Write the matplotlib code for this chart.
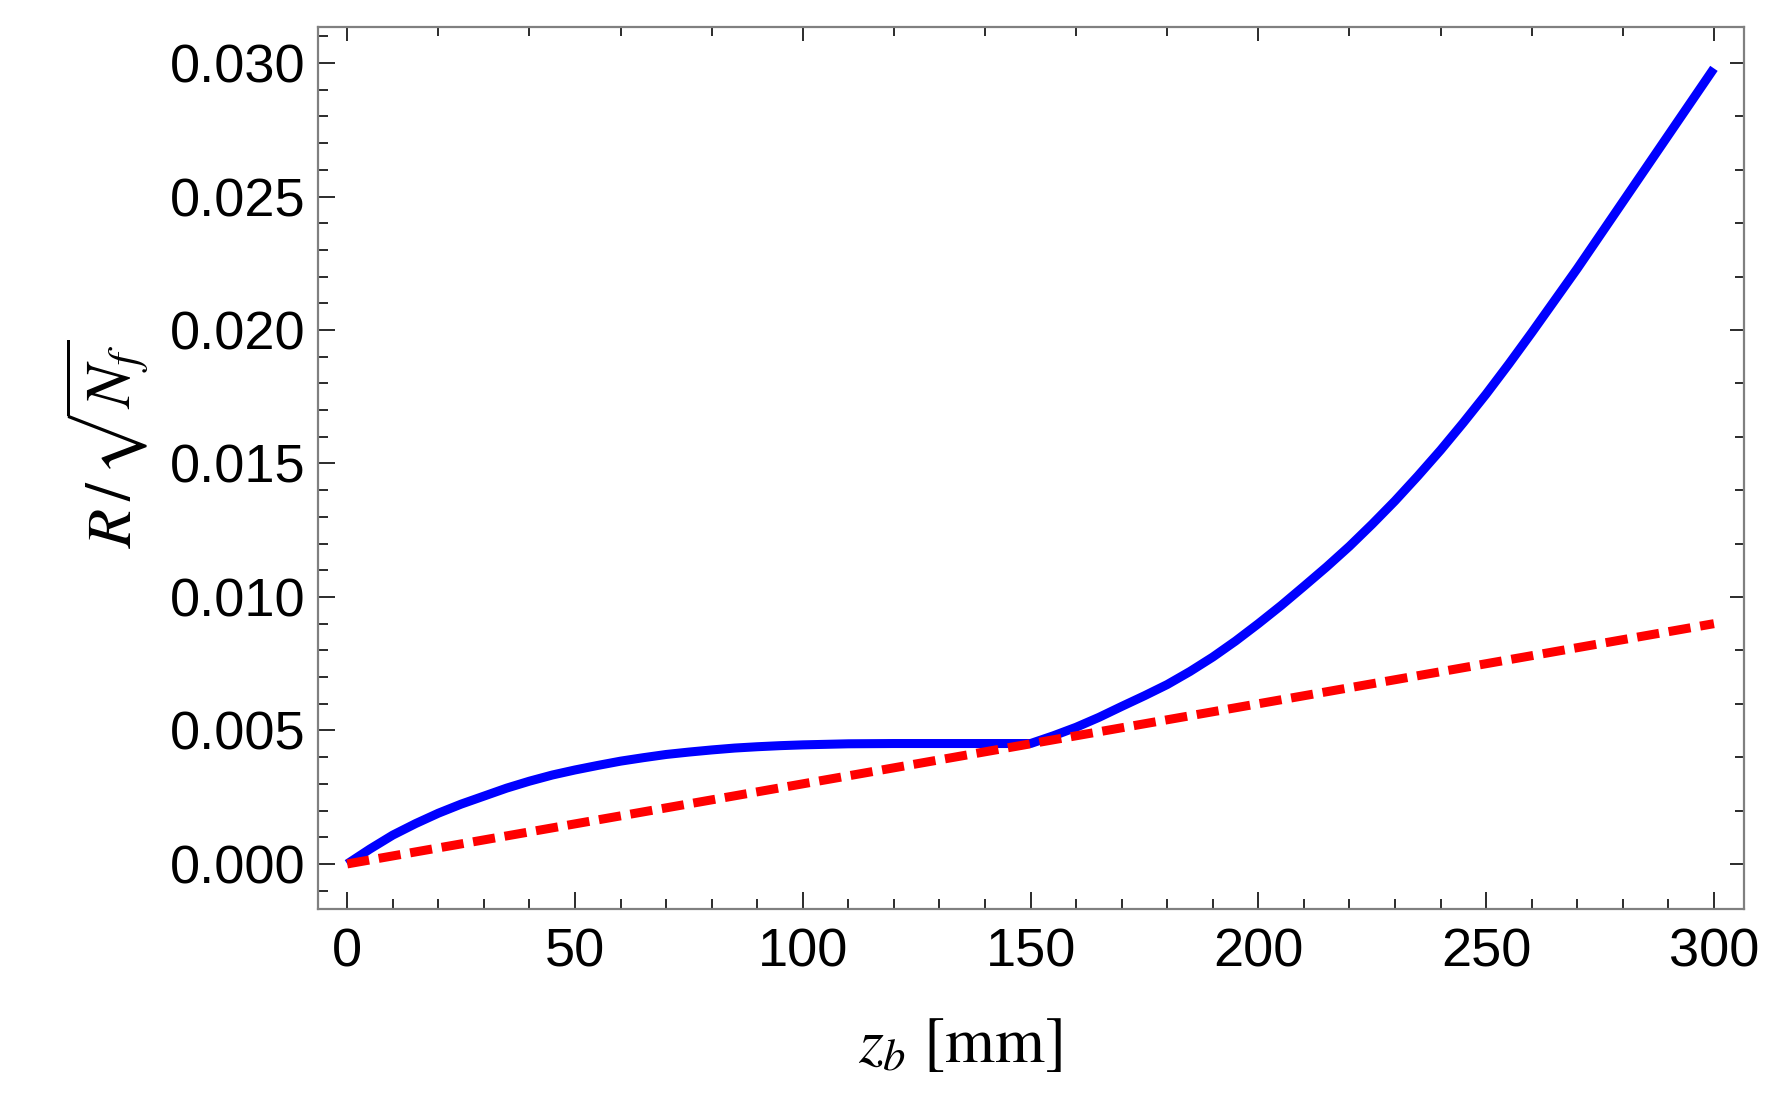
import matplotlib
matplotlib.use("Agg")
import matplotlib.pyplot as plt
from matplotlib.ticker import MultipleLocator, NullFormatter, FormatStrFormatter

# values
z_blue = [0, 5, 10, 15, 20, 25, 30, 35, 40, 45, 50, 55, 60, 65, 70, 75, 80, 85,
          90, 95, 100, 105, 110, 120, 130, 140, 150,
          155, 160, 165, 170, 175, 180, 185, 190, 195, 200, 205, 210, 215, 220,
          225, 230, 235, 240, 245, 250, 255, 260, 265, 270, 275, 280, 285, 290,
          295, 300]
r_blue = [0.0, 0.00056, 0.00108, 0.00151, 0.00190, 0.00224, 0.00254, 0.00284,
          0.00310, 0.00333, 0.00352, 0.00369, 0.00385, 0.00398, 0.00410, 0.00419,
          0.00427, 0.00434, 0.00439, 0.00443, 0.00446, 0.00448, 0.00450, 0.00451,
          0.00451, 0.00451, 0.00451,
          0.00480, 0.00512, 0.00549, 0.00590, 0.00630, 0.00672, 0.00721, 0.00775,
          0.00835, 0.00900, 0.00968, 0.01040, 0.01113, 0.01190, 0.01273, 0.01360,
          0.01453, 0.01550, 0.01653, 0.01760, 0.01873, 0.01990, 0.02110, 0.02230,
          0.02355, 0.02480, 0.02605, 0.02730, 0.02855, 0.02980]
z_red = [0, 300]
r_red = [0.0, 0.009]

plt.rcParams['font.family'] = ['Liberation Sans', 'DejaVu Sans']
plt.rcParams['mathtext.fontset'] = 'stix'
plt.rcParams['lines.scale_dashes'] = False

fig = plt.figure(figsize=(17.72, 10.93), dpi=100)
ax = fig.add_axes([0.1795, 0.1683, 0.8047, 0.807])

ax.plot(z_blue, r_blue, color='#0000ff', lw=6.5, solid_capstyle='butt',
        solid_joinstyle='round', zorder=2)
ax.plot(z_red, r_red, color='#ff0000', lw=6.5, dashes=(16, 7),
        dash_capstyle='butt', zorder=3)

ax.set_xlim(-6.4, 306.6)
ax.set_ylim(-0.00169, 0.03135)

ax.xaxis.set_major_locator(MultipleLocator(50))
ax.xaxis.set_minor_locator(MultipleLocator(10))
ax.yaxis.set_major_locator(MultipleLocator(0.005))
ax.yaxis.set_minor_locator(MultipleLocator(0.001))
ax.yaxis.set_major_formatter(FormatStrFormatter('%.3f'))

tick_col = '#1a1a1a'
ax.tick_params(which='both', direction='in', color=tick_col, width=1.3,
               labelsize=39, labelcolor='black')
ax.tick_params(which='major', length=12)
ax.tick_params(which='minor', length=7.5)
ax.tick_params(axis='x', pad=13)
ax.tick_params(axis='y', pad=9)

for s in ax.spines.values():
    s.set_color('#808080')
    s.set_linewidth(1.6)

# mirrored frame ticks (coarser, no labels)
top = ax.secondary_xaxis('top', functions=(lambda x: x, lambda x: x))
top.xaxis.set_major_locator(MultipleLocator(100))
top.xaxis.set_minor_locator(MultipleLocator(20))
top.xaxis.set_major_formatter(NullFormatter())
top.tick_params(which='both', direction='in', color=tick_col, width=1.3)
top.tick_params(which='major', length=10)
top.tick_params(which='minor', length=6.5)
top.spines['top'].set_visible(False)

right = ax.secondary_yaxis('right', functions=(lambda y: y, lambda y: y))
right.yaxis.set_major_locator(MultipleLocator(0.01))
right.yaxis.set_minor_locator(MultipleLocator(0.002))
right.yaxis.set_major_formatter(NullFormatter())
right.tick_params(which='both', direction='in', color=tick_col, width=1.3)
right.tick_params(which='major', length=10)
right.tick_params(which='minor', length=6.5)
right.spines['right'].set_visible(False)

ax.set_xlabel(r'$z_b\ [\mathrm{mm}]$', fontsize=46)
ax.xaxis.set_label_coords(0.45, -0.12)
ax.set_ylabel(r'$R\,/\,\sqrt{N_f}$', fontsize=46)
ax.yaxis.set_label_coords(-0.118, 0.527)

fig.savefig('out.png', dpi=100)
